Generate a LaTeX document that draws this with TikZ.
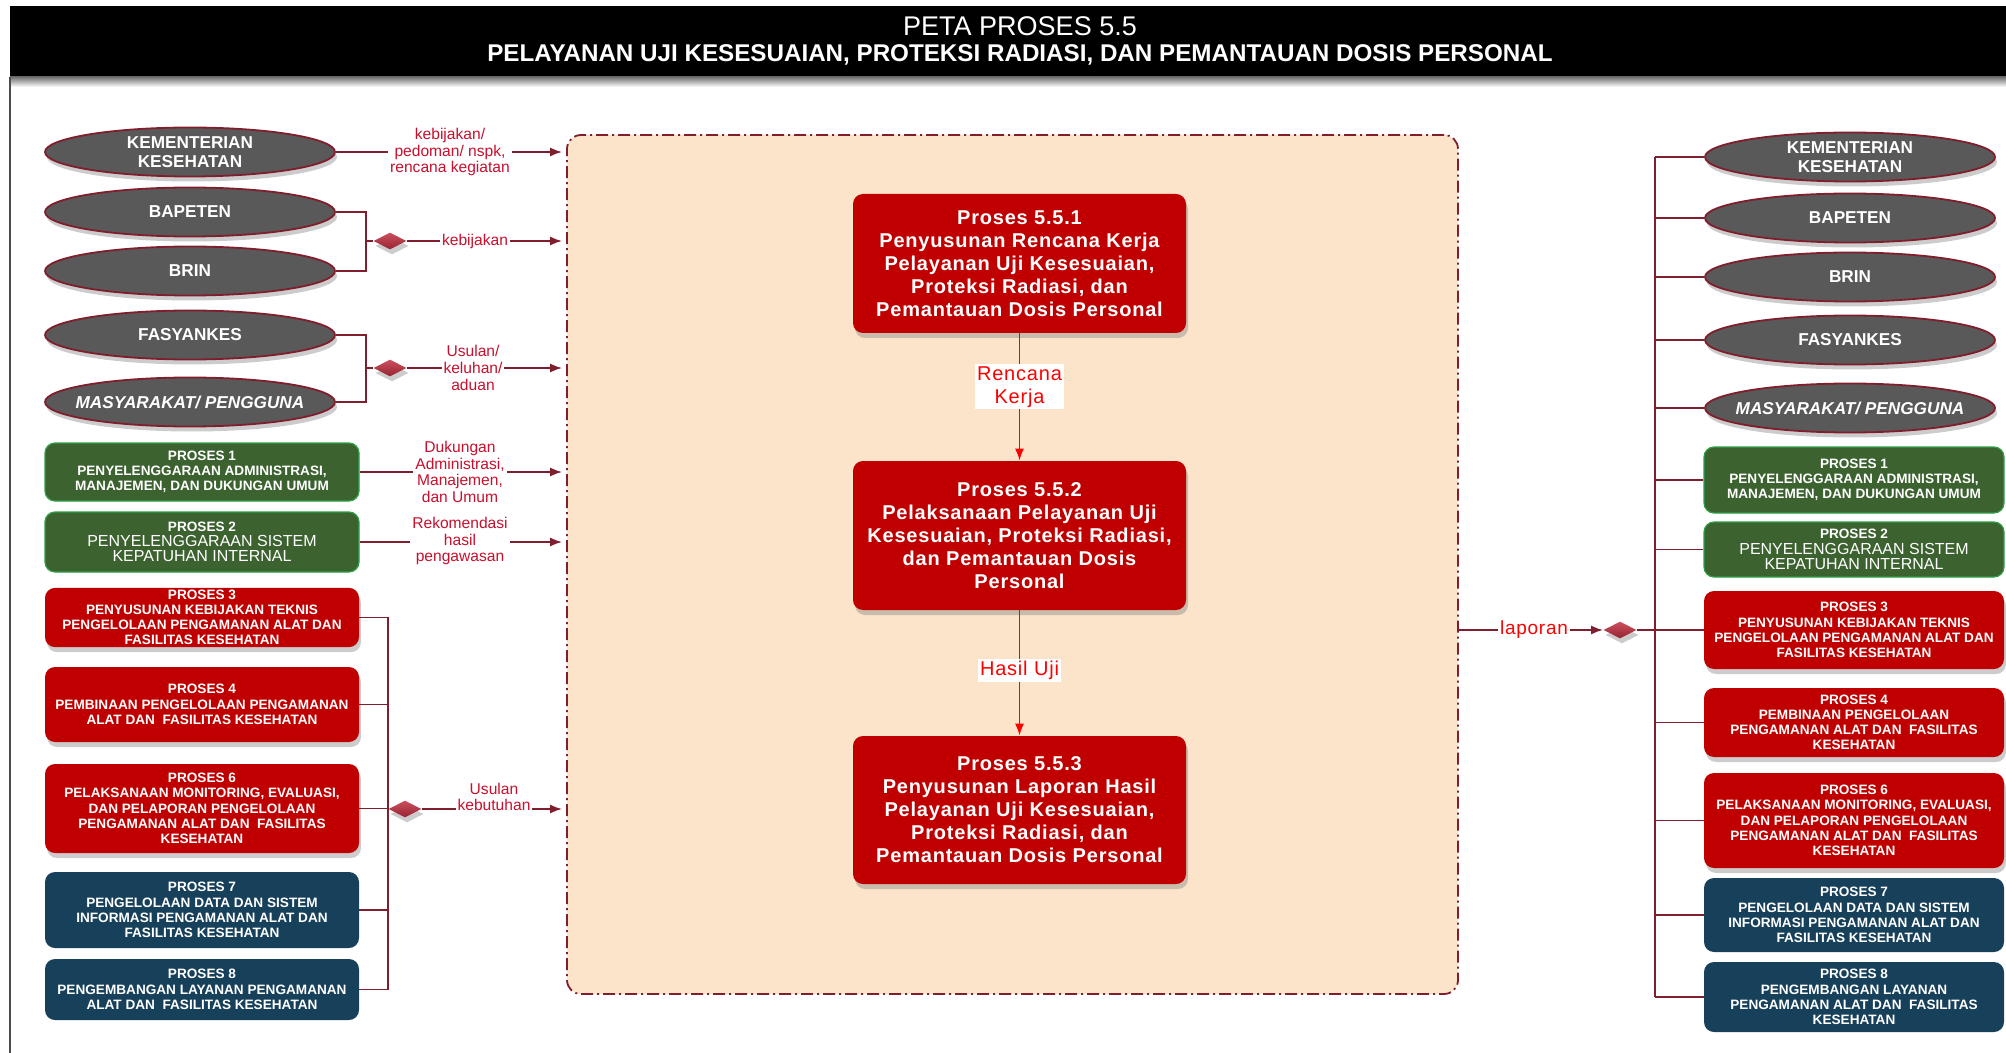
\documentclass[tikz,border=0pt]{standalone}
\usepackage{fontspec}
\setmainfont{Liberation Sans}
\newfontfamily\renggang[LetterSpace=4]{Liberation Sans}
\usetikzlibrary{shapes.geometric}
\usetikzlibrary{calc}
\usetikzlibrary{arrows.meta}
\usetikzlibrary{shadows}
\definecolor{garis}{RGB}{128,30,45}
\definecolor{abu}{RGB}{89,89,89}
\definecolor{merahbox}{RGB}{192,0,0}
\definecolor{hijaubox}{RGB}{60,98,48}
\definecolor{hijautepi}{RGB}{46,160,70}
\definecolor{birubox}{RGB}{23,64,90}
\definecolor{krem}{RGB}{252,228,202}
\definecolor{merahteks}{RGB}{200,16,46}
\definecolor{merahalur}{RGB}{255,0,0}
\definecolor{ketupatatas}{RGB}{205,80,95}
\definecolor{ketupatbawah}{RGB}{150,35,50}
\newcommand{\biasa}[1]{{\mdseries\fontsize{8}{8.6}\selectfont #1}}

\begin{document}
\begin{tikzpicture}[x=0.5pt, y=-0.5pt,
  bayang/.style={drop shadow={shadow xshift=1pt, shadow yshift=-2.5pt, opacity=0.4}},
  alur/.style={draw=garis, line width=0.9pt},
  panah/.style={alur, -{Latex[length=6pt,width=4.5pt]}, shorten >=2pt},
  pihak/.style={ellipse, draw=garis, line width=0.9pt, fill=abu, text=white,
    font=\bfseries\fontsize{8.6}{9.6}\selectfont, align=center,
    minimum width=145pt, minimum height=24.5pt, inner sep=0pt, bayang},
  kotak/.style={rounded corners=5pt, text=white, align=center, inner sep=1pt,
    font=\bfseries\fontsize{6.8}{7.6}\selectfont},
  kiri/.style={minimum width=157pt},
  kanan/.style={minimum width=150pt},
  hijau/.style={kotak, fill=hijaubox, draw=hijautepi, line width=0.6pt},
  merah/.style={kotak, fill=merahbox, bayang},
  biru/.style={kotak, fill=birubox},
  subproses/.style={rounded corners=5pt, fill=merahbox, text=white, align=center,
    minimum width=166.5pt, inner sep=1pt,
    font=\renggang\bfseries\fontsize{10}{11.5}\selectfont, bayang},
  ket/.style={text=merahteks, fill=white, align=center, inner sep=1pt,
    font=\fontsize{7.8}{8.3}\selectfont},
  ketpusat/.style={text=merahalur, fill=white, align=center, inner sep=1pt,
    font=\renggang\fontsize{10}{11.5}\selectfont},
  alurpusat/.style={draw=merahalur, line width=0.8pt, -{Latex[length=6pt,width=4.5pt]}},
  ketupat/.style={diamond, minimum width=16.5pt, minimum height=8.5pt, inner sep=0pt,
    top color=ketupatatas, bottom color=ketupatbawah, bayang}
]

\useasboundingbox (0,0) rectangle (2006,1053);

% Judul
\fill[black] (10,6) rectangle (2006,77);
\shade[top color=black!55, bottom color=white] (10,77) rectangle (2006,87);
\draw[black!70, line width=0.6pt] (10,77) -- (10,1053);
\node[text=white, font=\fontsize{13.5}{15}\selectfont] (judulA) at (1020,26) {PETA PROSES 5.5};
\node[text=white, font=\bfseries\fontsize{12.1}{14}\selectfont] (judulB) at (1020,55)
  {PELAYANAN UJI KESESUAIAN, PROTEKSI RADIASI, DAN PEMANTAUAN DOSIS PERSONAL};

% Wadah proses
\node[draw=garis, line width=0.9pt, fill=krem, rounded corners=7pt,
  dash pattern=on 6pt off 2pt on 1pt off 2pt,
  minimum width=445.5pt, minimum height=429.5pt] (wadah) at (1012.5,564.5) {};

% Sub proses
\node[subproses, minimum height=69.5pt] (p551) at (1019.5,263.5)
  {Proses 5.5.1\\Penyusunan Rencana Kerja\\Pelayanan Uji Kesesuaian,\\Proteksi Radiasi, dan\\Pemantauan Dosis Personal};
\node[subproses, minimum height=74.5pt] (p552) at (1019.5,535.5)
  {Proses 5.5.2\\Pelaksanaan Pelayanan Uji\\Kesesuaian, Proteksi Radiasi,\\dan Pemantauan Dosis\\Personal};
\node[subproses, minimum height=74pt] (p553) at (1019.5,810)
  {Proses 5.5.3\\Penyusunan Laporan Hasil\\Pelayanan Uji Kesesuaian,\\Proteksi Radiasi, dan\\Pemantauan Dosis Personal};

\draw[alurpusat] (p551) -- node[ketpusat, pos=0.42] (ketRencana) {Rencana\\Kerja} (p552);
\draw[alurpusat] (p552) -- node[ketpusat, pos=0.48] (ketHasil) {Hasil Uji} (p553);

% Input kiri
\node[pihak] (kemenkesK) at (190,152) {KEMENTERIAN\\KESEHATAN};
\node[pihak] (bapetenK) at (190,212) {BAPETEN};
\node[pihak] (brinK) at (190,271) {BRIN};
\node[pihak] (fasyankesK) at (190,335) {FASYANKES};
\node[pihak] (masyarakatK) at (190,402) {\makebox[0pt]{\itshape MASYARAKAT/ PENGGUNA}};

\node[hijau, kiri, minimum height=29pt] (kiriP1) at (202,472)
  {PROSES 1\\PENYELENGGARAAN ADMINISTRASI,\\MANAJEMEN, DAN DUKUNGAN UMUM};
\node[hijau, kiri, minimum height=30pt] (kiriP2) at (202,542)
  {PROSES 2\\\biasa{PENYELENGGARAAN SISTEM}\\\biasa{KEPATUHAN INTERNAL}};
\node[merah, kiri, minimum height=29.5pt] (kiriP3) at (202,617.5)
  {PROSES 3\\PENYUSUNAN KEBIJAKAN TEKNIS\\PENGELOLAAN PENGAMANAN ALAT DAN\\FASILITAS KESEHATAN};
\node[merah, kiri, minimum height=37.5pt] (kiriP4) at (202,704.5)
  {PROSES 4\\PEMBINAAN PENGELOLAAN PENGAMANAN\\ALAT DAN\ \ FASILITAS KESEHATAN};
\node[merah, kiri, minimum height=44.5pt] (kiriP6) at (202,808.5)
  {PROSES 6\\PELAKSANAAN MONITORING, EVALUASI,\\DAN PELAPORAN PENGELOLAAN\\PENGAMANAN ALAT DAN\ \ FASILITAS\\KESEHATAN};
\node[biru, kiri, minimum height=38pt] (kiriP7) at (202,910)
  {PROSES 7\\PENGELOLAAN DATA DAN SISTEM\\INFORMASI PENGAMANAN ALAT DAN\\FASILITAS KESEHATAN};
\node[biru, kiri, minimum height=30.5pt] (kiriP8) at (202,989.5)
  {PROSES 8\\PENGEMBANGAN LAYANAN PENGAMANAN\\ALAT DAN\ \ FASILITAS KESEHATAN};

% Alur masuk
\draw[panah] (kemenkesK.east) -- (kemenkesK.east -| wadah.west);

\coordinate (sambung1) at (366,241);
\node[ketupat] (ketupat1) at (390,241) {};
\draw[alur] (bapetenK.east) -| (sambung1) |- (brinK.east);
\draw[alur] (sambung1) -- (ketupat1.west);
\draw[panah] (ketupat1.east) -- (ketupat1.east -| wadah.west);

\coordinate (sambung2) at (366,368);
\node[ketupat] (ketupat2) at (390,368) {};
\draw[alur] (fasyankesK.east) -| (sambung2) |- (masyarakatK.east);
\draw[alur] (sambung2) -- (ketupat2.west);
\draw[panah] (ketupat2.east) -- (ketupat2.east -| wadah.west);

\draw[panah] (kiriP1.east) -- (kiriP1.east -| wadah.west);
\draw[panah] (kiriP2.east) -- (kiriP2.east -| wadah.west);

\coordinate (rel3) at (388,0);
\draw[alur] (kiriP3.east) -| (rel3 |- kiriP8.east) -- (kiriP8.east);
\foreach \n in {4,6,7}
  \draw[alur] (kiriP\n.east) -- (rel3 |- kiriP\n.east);
\node[ketupat] (ketupat3) at (405,809) {};
\draw[panah] (ketupat3.east) -- (ketupat3.east -| wadah.west);

\node[ket] (ketKebijakanA) at (450,152) {kebijakan/\\pedoman/ nspk,\\rencana kegiatan};
\node[ket] (ketKebijakanB) at (475,241) {kebijakan};
\node[ket] (ketUsulan) at (473,368) {Usulan/\\keluhan/\\aduan};
\node[ket] (ketDukungan) at (460,472) {Dukungan\\Administrasi,\\Manajemen,\\dan Umum};
\node[ket] (ketRekomendasi) at (460,541) {Rekomendasi\\hasil\\pengawasan};
\node[ket] (ketKebutuhan) at (494,797) {Usulan\\kebutuhan};

% Output kanan
\node[pihak] (kemenkesR) at (1850,157) {KEMENTERIAN\\KESEHATAN};
\node[pihak] (bapetenR) at (1850,218) {BAPETEN};
\node[pihak] (brinR) at (1850,277) {BRIN};
\node[pihak] (fasyankesR) at (1850,340) {FASYANKES};
\node[pihak] (masyarakatR) at (1850,408) {\makebox[0pt]{\itshape MASYARAKAT/ PENGGUNA}};

\node[hijau, kanan, minimum height=33pt] (kananP1) at (1854,480)
  {PROSES 1\\PENYELENGGARAAN ADMINISTRASI,\\MANAJEMEN, DAN DUKUNGAN UMUM};
\node[hijau, kanan, minimum height=27.5pt] (kananP2) at (1854,549.5)
  {PROSES 2\\\biasa{PENYELENGGARAAN SISTEM}\\\biasa{KEPATUHAN INTERNAL}};
\node[merah, kanan, minimum height=39pt] (kananP3) at (1854,630)
  {PROSES 3\\PENYUSUNAN KEBIJAKAN TEKNIS\\PENGELOLAAN PENGAMANAN ALAT DAN\\FASILITAS KESEHATAN};
\node[merah, kanan, minimum height=34.5pt] (kananP4) at (1854,722.5)
  {PROSES 4\\PEMBINAAN PENGELOLAAN\\PENGAMANAN ALAT DAN\ \ FASILITAS\\KESEHATAN};
\node[merah, kanan, minimum height=47.5pt] (kananP6) at (1854,820.5)
  {PROSES 6\\PELAKSANAAN MONITORING, EVALUASI,\\DAN PELAPORAN PENGELOLAAN\\PENGAMANAN ALAT DAN\ \ FASILITAS\\KESEHATAN};
\node[biru, kanan, minimum height=37pt] (kananP7) at (1854,915)
  {PROSES 7\\PENGELOLAAN DATA DAN SISTEM\\INFORMASI PENGAMANAN ALAT DAN\\FASILITAS KESEHATAN};
\node[biru, kanan, minimum height=35pt] (kananP8) at (1854,997)
  {PROSES 8\\PENGEMBANGAN LAYANAN\\PENGAMANAN ALAT DAN\ \ FASILITAS\\KESEHATAN};

% Alur keluar
\coordinate (rel4) at (1655,0);
\draw[alur] (rel4 |- kemenkesR.west) -- (rel4 |- kananP8.west);
\foreach \n in {kemenkesR,bapetenR,brinR,fasyankesR,masyarakatR,kananP1,kananP2,kananP3,kananP4,kananP6,kananP7,kananP8}
  \draw[alur] (rel4 |- \n.west) -- (\n.west);

\node[ketupat] (ketupat4) at (1620,630) {};
\draw[panah, shorten >=0pt] (wadah.east |- ketupat4) -- (ketupat4.west);
\draw[alur] (ketupat4.east) -- (rel4 |- ketupat4);
\node[ket, text=merahalur, font=\renggang\fontsize{9.5}{11}\selectfont] (ketLaporan) at (1534,630) {laporan};

\end{tikzpicture}
\end{document}
